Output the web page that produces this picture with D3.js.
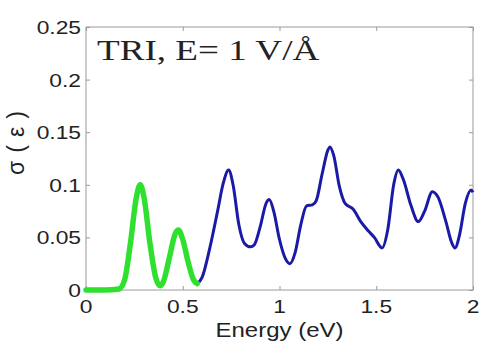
<!DOCTYPE html>
<html>
<head>
<meta charset="utf-8">
<script src="https://cdn.jsdelivr.net/npm/d3@7"></script>
<style>
  body { margin: 0; background: #fff; }
  svg { display: block; }
</style>
</head>
<body>
<div id="chart"></div>
<script>
// data
var green_x = [0, 0.1, 0.17, 0.2, 0.23, 0.26, 0.28, 0.3, 0.33, 0.36, 0.382, 0.4, 0.43, 0.46, 0.477, 0.5, 0.53, 0.555, 0.575];
var green_y = [0, 0, 0.001, 0.01, 0.045, 0.088, 0.1, 0.088, 0.045, 0.012, 0.004, 0.008, 0.03, 0.053, 0.057, 0.048, 0.025, 0.01, 0.006];

var blue_x = [0.575, 0.6, 0.64, 0.68, 0.71, 0.737, 0.76, 0.79, 0.82, 0.85, 0.87, 0.9, 0.93, 0.947, 0.97, 1.0, 1.03, 1.054, 1.08, 1.11, 1.14, 1.17, 1.19, 1.22, 1.25, 1.26, 1.28, 1.31, 1.34, 1.38, 1.42, 1.46, 1.49, 1.53, 1.56, 1.59, 1.614, 1.64, 1.68, 1.717, 1.75, 1.79, 1.82, 1.86, 1.89, 1.907, 1.93, 1.96, 1.99, 2.0];
var blue_y = [0.006, 0.012, 0.04, 0.075, 0.102, 0.114, 0.1, 0.062, 0.044, 0.041, 0.043, 0.06, 0.082, 0.086, 0.075, 0.048, 0.03, 0.025, 0.035, 0.062, 0.08, 0.081, 0.085, 0.11, 0.133, 0.136, 0.128, 0.098, 0.082, 0.077, 0.065, 0.056, 0.05, 0.04, 0.058, 0.1, 0.114, 0.105, 0.08, 0.065, 0.075, 0.0935, 0.088, 0.065, 0.045, 0.04, 0.052, 0.082, 0.095, 0.093];

var x_ticks = [0, 0.5, 1, 1.5, 2];
var y_ticks = [0, 0.05, 0.1, 0.15, 0.2, 0.25];
var x_tick_labels = ["0", "0.5", "1", "1.5", "2"];
var y_tick_labels = ["0", "0.05", "0.1", "0.15", "0.2", "0.25"];

var width = 483, height = 345;
var box = {left: 86, right: 473, top: 27, bottom: 290};
var stretch = 1.2; // text in the picture is drawn a bit wide

var x = d3.scaleLinear().domain([0, 2]).range([box.left, box.right]);
var y = d3.scaleLinear().domain([0, 0.25]).range([box.bottom, box.top]);

var svg = d3.select("#chart").append("svg")
    .attr("width", width)
    .attr("height", height);

// axes box
svg.append("rect")
    .attr("x", box.left)
    .attr("y", box.top)
    .attr("width", box.right - box.left)
    .attr("height", box.bottom - box.top)
    .attr("fill", "none")
    .attr("stroke", "#9a9a9a")
    .attr("stroke-width", 1);

// inward ticks on all four sides
var tick_len = 4;
svg.append("g").attr("class", "xaxis_bottom")
    .attr("transform", "translate(0," + box.bottom + ")")
    .call(d3.axisBottom(x).tickValues(x_ticks).tickSize(-tick_len).tickFormat(""));
svg.append("g").attr("class", "xaxis_top")
    .attr("transform", "translate(0," + box.top + ")")
    .call(d3.axisTop(x).tickValues(x_ticks).tickSize(-tick_len).tickFormat(""));
svg.append("g").attr("class", "yaxis_left")
    .attr("transform", "translate(" + box.left + ",0)")
    .call(d3.axisLeft(y).tickValues(y_ticks).tickSize(-tick_len).tickFormat(""));
svg.append("g").attr("class", "yaxis_right")
    .attr("transform", "translate(" + box.right + ",0)")
    .call(d3.axisRight(y).tickValues(y_ticks).tickSize(-tick_len).tickFormat(""));
svg.selectAll(".domain").remove();
svg.selectAll(".tick line").attr("stroke", "#9a9a9a");

// tick labels
svg.selectAll(".xlabel")
    .data(x_ticks)
  .enter().append("text")
    .attr("class", "xlabel")
    .attr("transform", function(d) { return "translate(" + x(d) + ",313) scale(" + stretch + ",1)"; })
    .attr("text-anchor", "middle")
    .style("font-family", "'Liberation Sans', Arial, sans-serif")
    .style("font-size", "19px")
    .style("fill", "#222")
    .text(function(d, i) { return x_tick_labels[i]; });

svg.selectAll(".ylabel")
    .data(y_ticks)
  .enter().append("text")
    .attr("class", "ylabel")
    .attr("transform", function(d) { return "translate(81," + (y(d) + 7) + ") scale(" + stretch + ",1)"; })
    .attr("text-anchor", "end")
    .style("font-family", "'Liberation Sans', Arial, sans-serif")
    .style("font-size", "19px")
    .style("fill", "#222")
    .text(function(d, i) { return y_tick_labels[i]; });

// axis titles
svg.append("text")
    .attr("transform", "translate(" + ((box.left + box.right) / 2) + ",337) scale(" + stretch + ",1)")
    .attr("text-anchor", "middle")
    .style("font-family", "'Liberation Sans', Arial, sans-serif")
    .style("font-size", "20px")
    .style("fill", "#222")
    .text("Energy (eV)");

svg.append("text")
    .attr("transform", "translate(24,143) rotate(-90)")
    .attr("text-anchor", "middle")
    .attr("textLength", 64)
    .attr("lengthAdjust", "spacing")
    .style("font-family", "'Liberation Sans', Arial, sans-serif")
    .style("font-size", "23px")
    .style("fill", "#222")
    .text("σ(ε)");

// curves
var line = d3.line()
    .x(function(d) { return x(d[0]); })
    .y(function(d) { return y(d[1]); })
    .curve(d3.curveMonotoneX);

var blue_data = blue_x.map(function(d, i) { return [d, blue_y[i]]; });
var green_data = green_x.map(function(d, i) { return [d, green_y[i]]; });

svg.append("path")
    .datum(blue_data)
    .attr("d", line)
    .attr("fill", "none")
    .attr("stroke", "#1a1aa6")
    .attr("stroke-width", 3)
    .attr("stroke-linejoin", "round");

svg.append("path")
    .datum(green_data)
    .attr("d", line)
    .attr("fill", "none")
    .attr("stroke", "#2fe02f")
    .attr("stroke-width", 5.5)
    .attr("stroke-linejoin", "round")
    .attr("stroke-linecap", "round");

// annotation
svg.append("text")
    .attr("transform", "translate(97,60) scale(1.28,1)")
    .style("font-family", "'Liberation Serif', 'Times New Roman', serif")
    .style("font-size", "29px")
    .style("fill", "#222")
    .text("TRI, E= 1 V/Å");
</script>
</body>
</html>
